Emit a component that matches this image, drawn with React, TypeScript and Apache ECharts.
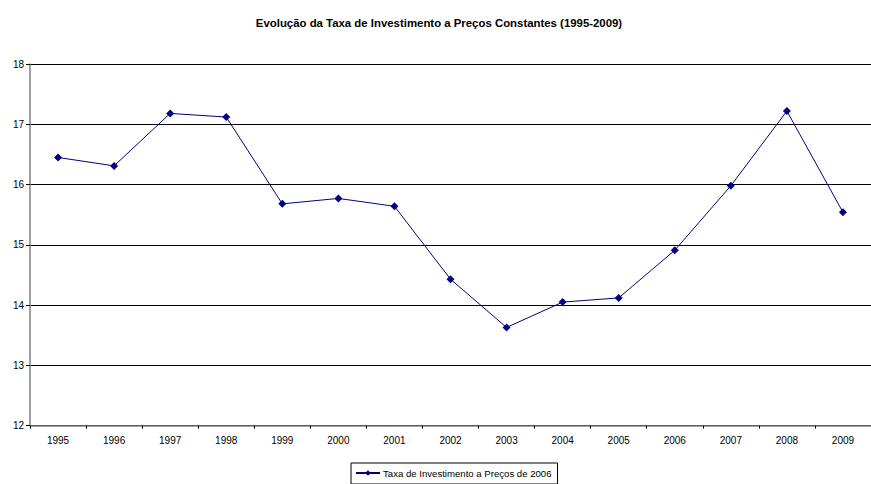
import React, { useEffect, useRef } from "react";
import * as echarts from "echarts";

const years = ["1995", "1996", "1997", "1998", "1999", "2000", "2001", "2002", "2003", "2004", "2005", "2006", "2007", "2008", "2009"];
const taxaInvestimento = [16.45, 16.31, 17.18, 17.12, 15.68, 15.77, 15.64, 14.43, 13.63, 14.05, 14.12, 14.91, 15.98, 17.22, 15.54];
const seriesName = "Taxa de Investimento a Preços de 2006";
const chartTitle = "Evolução da Taxa de Investimento a Preços Constantes (1995-2009)";

const FONT = "Arial, 'Liberation Sans', sans-serif";

export default function App() {
  const ref = useRef<HTMLDivElement>(null);

  useEffect(() => {
    if (!ref.current) return;
    const chart = echarts.init(ref.current, undefined, { renderer: "svg" });
    chart.setOption({
      animation: false,
      backgroundColor: "#ffffff",
      textStyle: { fontFamily: FONT },
      title: {
        text: chartTitle,
        left: 434,
        top: 12,
        textAlign: "center",
        textStyle: { fontFamily: FONT, fontSize: 11.4, fontWeight: "bold", color: "#000" },
      },
      grid: { left: 30, top: 64, right: -6.5, bottom: 58.3, containLabel: false },
      xAxis: {
        type: "category",
        data: years,
        boundaryGap: true,
        axisLine: { lineStyle: { color: "#808080", width: 1.5 } },
        axisTick: { show: true, length: 3, lineStyle: { color: "#000" } },
        axisLabel: { fontFamily: FONT, fontSize: 10, color: "#000", margin: 10 },
      },
      yAxis: {
        type: "value",
        min: 12,
        max: 18,
        interval: 1,
        axisLine: { show: true, lineStyle: { color: "#808080", width: 1.5 } },
        axisTick: { show: true, length: 4, lineStyle: { color: "#000" } },
        axisLabel: { fontFamily: FONT, fontSize: 10, color: "#000", margin: 6 },
        splitLine: { show: true, lineStyle: { color: "#000", width: 1 } },
      },
      legend: {
        data: [seriesName],
        left: 351,
        top: 463,
        orient: "horizontal",
        itemWidth: 24,
        itemHeight: 7,
        itemGap: 4,
        padding: [5, 6, 6, 4],
        borderColor: "#000",
        borderWidth: 1,
        textStyle: { fontFamily: FONT, fontSize: 9.6, color: "#000", padding: [0, 0, 0, -2] },
      },
      series: [
        {
          name: seriesName,
          type: "line",
          data: taxaInvestimento,
          symbol: "diamond",
          symbolSize: 8,
          lineStyle: { color: "#000080", width: 1 },
          itemStyle: { color: "#000080" },
        },
      ],
    });
    return () => chart.dispose();
  }, []);

  return (
    <div
      ref={ref}
      style={{ position: "fixed", left: 0, top: 0, width: 871, height: 484, background: "#fff" }}
    />
  );
}
